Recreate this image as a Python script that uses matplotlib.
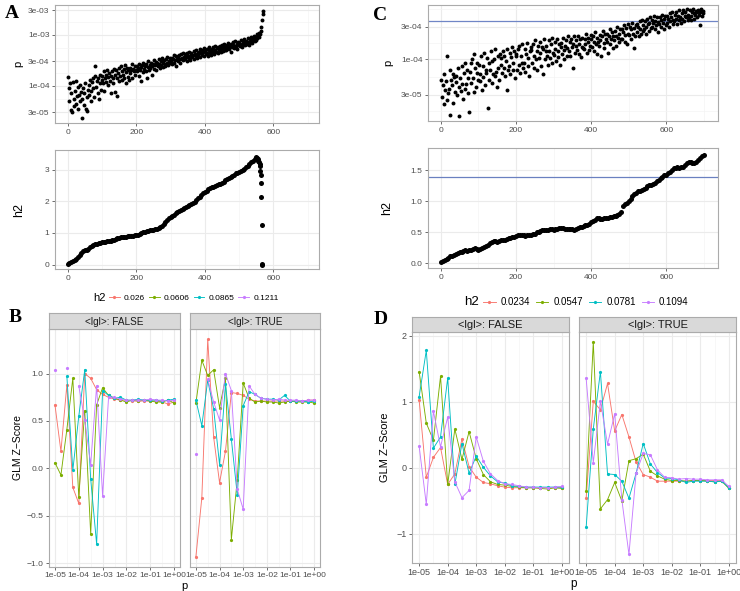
import numpy as np
import matplotlib
matplotlib.use('Agg')
import matplotlib.pyplot as plt
from matplotlib.lines import Line2D
from matplotlib.ticker import FixedLocator, NullFormatter

plt.rcParams['font.family'] = ['Liberation Sans', 'DejaVu Sans']

W, H = 740, 591

# ---- panel A: log10(p) per rank (every 2nd rank), and h2 curve ----
a_log10_p = [
    -3.82, -4.05, -4.30, -3.95, -4.48, -4.15, -4.52, -3.92, -4.25, -4.40,
    -4.10, -3.90, -4.35, -4.20, -4.02, -4.45, -4.18, -3.98, -4.30, -4.12,
    -4.25, -4.64, -4.05, -4.38, -4.15, -3.95, -4.45, -4.22, -4.50, -4.08,
    -3.98, -4.18, -3.88, -4.10, -4.30, -3.92, -4.05, -3.85, -4.22, -3.80,
    -3.62, -4.02, -3.90, -4.15, -3.85, -4.25, -3.95, -3.78, -4.08, -3.88,
    -3.80, -3.95, -3.72, -4.10, -3.85, -3.78, -3.92, -3.70, -3.98, -3.82,
    -3.75, -3.90, -4.15, -3.80, -3.72, -3.95, -3.85, -3.68, -4.12, -3.78,
    -3.70, -3.85, -4.20, -3.75, -3.65, -3.90, -3.80, -3.62, -3.88, -3.72,
    -3.78, -3.68, -3.85, -3.60, -3.95, -3.74, -3.66, -3.82, -3.70, -3.88,
    -3.65, -3.76, -3.70, -3.58, -3.84, -3.68, -3.72, -3.62, -3.78, -3.70,
    -3.62, -3.72, -3.66, -3.80, -3.58, -3.70, -3.64, -3.90, -3.60, -3.74,
    -3.55, -3.68, -3.62, -3.72, -3.58, -3.85, -3.64, -3.52, -3.70, -3.60,
    -3.66, -3.55, -3.62, -3.78, -3.58, -3.50, -3.68, -3.60, -3.54, -3.70,
    -3.56, -3.62, -3.48, -3.58, -3.66, -3.52, -3.60, -3.46, -3.64, -3.55,
    -3.50, -3.58, -3.62, -3.48, -3.55, -3.44, -3.60, -3.52, -3.56, -3.46,
    -3.52, -3.45, -3.58, -3.48, -3.40, -3.55, -3.50, -3.42, -3.62, -3.47,
    -3.44, -3.52, -3.40, -3.48, -3.55, -3.38, -3.46, -3.50, -3.36, -3.44,
    -3.48, -3.38, -3.44, -3.52, -3.35, -3.42, -3.46, -3.33, -3.50, -3.40,
    -3.36, -3.44, -3.40, -3.32, -3.48, -3.38, -3.30, -3.42, -3.46, -3.35,
    -3.40, -3.33, -3.28, -3.44, -3.36, -3.30, -3.40, -3.34, -3.26, -3.42,
    -3.32, -3.38, -3.28, -3.35, -3.42, -3.30, -3.25, -3.36, -3.32, -3.40,
    -3.28, -3.34, -3.24, -3.38, -3.30, -3.22, -3.33, -3.27, -3.36, -3.25,
    -3.30, -3.22, -3.28, -3.34, -3.20, -3.26, -3.31, -3.24, -3.18, -3.29,
    -3.24, -3.30, -3.20, -3.26, -3.16, -3.28, -3.22, -3.33, -3.18, -3.25,
    -3.20, -3.14, -3.26, -3.22, -3.12, -3.24, -3.18, -3.28, -3.15, -3.21,
    -3.16, -3.22, -3.10, -3.19, -3.25, -3.13, -3.18, -3.08, -3.21, -3.15,
    -3.12, -3.18, -3.06, -3.14, -3.20, -3.09, -3.15, -3.04, -3.12, -3.17,
    -3.08, -3.02, -3.12, -3.05, -3.10, -2.99, -3.06, -3.02, -2.97, -3.04,
    -2.98, -2.93, -2.85, -2.72, -2.60, -2.53,
]

# h2 every 5 ranks from 0 to 545
a_h2 = [
    0.03, 0.05, 0.07, 0.10, 0.13, 0.18, 0.24, 0.31, 0.38, 0.42,
    0.45, 0.46, 0.48, 0.55, 0.60, 0.63, 0.64, 0.66, 0.67, 0.69,
    0.70, 0.71, 0.72, 0.73, 0.74, 0.75, 0.77, 0.79, 0.81, 0.83,
    0.85, 0.86, 0.87, 0.88, 0.88, 0.89, 0.89, 0.90, 0.91, 0.92,
    0.93, 0.95, 0.97, 1.00, 1.02, 1.04, 1.06, 1.07, 1.08, 1.09,
    1.10, 1.12, 1.13, 1.15, 1.18, 1.22, 1.28, 1.35, 1.42, 1.46,
    1.50, 1.54, 1.58, 1.62, 1.66, 1.69, 1.72, 1.75, 1.78, 1.81,
    1.84, 1.87, 1.90, 1.94, 1.98, 2.04, 2.10, 2.15, 2.20, 2.25,
    2.30, 2.34, 2.38, 2.41, 2.44, 2.46, 2.48, 2.50, 2.53, 2.55,
    2.58, 2.62, 2.66, 2.70, 2.74, 2.77, 2.80, 2.84, 2.88, 2.90,
    2.92, 2.95, 2.98, 3.03, 3.08, 3.13, 3.18, 3.23, 3.28, 3.33,
]
a_tail_rank = [548, 550, 552, 554, 556, 558, 560, 561, 562, 563, 564, 565, 566, 567, 568]
a_tail_h2 = [3.38, 3.40, 3.36, 3.32, 3.28, 3.24, 3.18, 3.10, 2.97, 2.83, 2.59, 2.12, 1.24, 0.02, 0.00]

# ---- panel C ----
c_log10_p = [
    -4.30, -4.55, -4.38, -4.65, -4.22, -4.45, -4.32, -4.60, -3.95, -4.50,
    -4.44, -4.16, -4.82, -4.31, -4.38, -4.21, -4.64, -4.26, -4.48, -4.33,
    -4.24, -4.52, -4.12, -4.40, -4.83, -4.28, -4.47, -4.10, -4.36, -4.58,
    -4.20, -4.44, -4.06, -4.36, -4.15, -4.50, -4.27, -4.77, -4.18, -4.05,
    -4.35, -4.00, -4.28, -4.48, -3.92, -4.12, -4.40, -4.20, -4.05, -4.30,
    -4.08, -4.32, -4.22, -3.95, -4.45, -4.10, -4.26, -3.90, -4.38, -4.15,
    -4.20, -3.98, -4.72, -4.05, -4.30, -4.15, -3.88, -4.35, -4.02, -4.22,
    -4.00, -4.25, -3.85, -4.18, -4.40, -3.95, -4.12, -4.30, -3.92, -4.08,
    -3.98, -4.20, -3.88, -4.12, -3.95, -4.25, -4.02, -4.45, -3.85, -4.15,
    -4.10, -3.90, -4.22, -3.96, -3.82, -4.15, -4.05, -3.88, -4.28, -3.95,
    -3.92, -4.15, -3.85, -4.08, -3.80, -4.20, -3.95, -4.05, -3.78, -4.12,
    -4.05, -3.85, -4.18, -3.92, -3.76, -4.10, -3.98, -4.25, -3.88, -3.82,
    -3.86, -4.05, -3.78, -4.12, -3.95, -3.72, -4.00, -3.88, -4.15, -3.80,
    -3.98, -3.75, -3.90, -4.10, -3.82, -4.22, -3.85, -3.70, -4.00, -3.88,
    -3.80, -3.95, -4.08, -3.72, -3.88, -3.98, -3.78, -4.05, -3.68, -3.90,
    -3.94, -3.75, -3.85, -4.02, -3.70, -3.88, -3.96, -3.78, -4.08, -3.82,
    -3.76, -3.92, -3.68, -3.86, -4.00, -3.80, -3.72, -3.95, -3.84, -3.66,
    -3.88, -3.74, -3.95, -3.70, -3.82, -4.12, -3.78, -3.66, -3.90, -3.80,
    -3.72, -3.86, -3.65, -3.92, -3.78, -3.70, -3.96, -3.82, -3.68, -3.84,
    -3.85, -3.70, -3.78, -3.62, -3.90, -3.75, -3.68, -3.86, -3.80, -3.64,
    -3.70, -3.82, -3.66, -3.88, -3.75, -3.60, -3.78, -3.92, -3.68, -3.74,
    -3.80, -3.64, -3.72, -3.95, -3.66, -3.58, -3.76, -3.84, -3.62, -3.70,
    -3.62, -3.74, -3.90, -3.66, -3.56, -3.78, -3.70, -3.60, -3.84, -3.66,
    -3.72, -3.58, -3.66, -3.80, -3.52, -3.68, -3.62, -3.75, -3.55, -3.70,
    -3.56, -3.70, -3.60, -3.50, -3.74, -3.64, -3.54, -3.78, -3.62, -3.48,
    -3.64, -3.52, -3.70, -3.56, -3.46, -3.62, -3.84, -3.54, -3.66, -3.50,
    -3.48, -3.60, -3.52, -3.66, -3.44, -3.56, -3.62, -3.42, -3.58, -3.50,
    -3.56, -3.44, -3.52, -3.62, -3.40, -3.48, -3.58, -3.46, -3.38, -3.54,
    -3.42, -3.52, -3.46, -3.36, -3.56, -3.44, -3.50, -3.38, -3.60, -3.45,
    -3.48, -3.38, -3.52, -3.42, -3.34, -3.46, -3.56, -3.40, -3.36, -3.50,
    -3.36, -3.46, -3.40, -3.52, -3.32, -3.44, -3.38, -3.30, -3.48, -3.42,
    -3.44, -3.34, -3.40, -3.30, -3.48, -3.36, -3.42, -3.28, -3.38, -3.46,
    -3.32, -3.40, -3.28, -3.44, -3.36, -3.30, -3.38, -3.26, -3.42, -3.34,
    -3.38, -3.28, -3.36, -3.42, -3.30, -3.26, -3.40, -3.32, -3.35, -3.29,
    -3.30, -3.38, -3.27, -3.34, -3.50, -3.31, -3.26, -3.36, -3.29, -3.32,
]
c_p_cut = 3.65e-4

# h2 every 5 ranks from 0 to 700
c_h2 = [
    0.02, 0.04, 0.06, 0.07, 0.09, 0.11, 0.12, 0.14, 0.15, 0.17,
    0.18, 0.19, 0.20, 0.21, 0.20, 0.21, 0.21, 0.23, 0.24, 0.23,
    0.22, 0.23, 0.25, 0.27, 0.28, 0.30, 0.32, 0.34, 0.36, 0.36,
    0.35, 0.36, 0.37, 0.37, 0.38, 0.39, 0.40, 0.41, 0.42, 0.43,
    0.44, 0.45, 0.45, 0.46, 0.45, 0.44, 0.46, 0.46, 0.46, 0.47,
    0.48, 0.50, 0.51, 0.52, 0.54, 0.54, 0.53, 0.54, 0.55, 0.55,
    0.54, 0.55, 0.56, 0.57, 0.57, 0.57, 0.56, 0.56, 0.56, 0.55,
    0.55, 0.54, 0.56, 0.57, 0.58, 0.59, 0.60, 0.61, 0.62, 0.64,
    0.66, 0.68, 0.70, 0.73, 0.73, 0.72, 0.72, 0.73, 0.73, 0.73,
    0.74, 0.75, 0.76, 0.77, 0.78, 0.79, 0.82, 0.92, 0.96, 0.97,
    1.00, 1.04, 1.08, 1.12, 1.14, 1.16, 1.17, 1.18, 1.20, 1.22,
    1.24, 1.26, 1.27, 1.28, 1.30, 1.32, 1.35, 1.37, 1.40, 1.42,
    1.43, 1.45, 1.48, 1.51, 1.53, 1.54, 1.55, 1.54, 1.55, 1.56,
    1.58, 1.61, 1.63, 1.64, 1.62, 1.62, 1.64, 1.67, 1.70, 1.73,
    1.75,
]
c_h2_cut = 1.387

# ---- panels B and D: GLM Z-score per p threshold ----
p_thr = [1e-05, 1.78e-05, 3.16e-05, 5.62e-05, 1e-04, 1.78e-04, 3.16e-04, 5.62e-04,
         1e-03, 1.78e-03, 3.16e-03, 5.62e-03, 1e-02, 1.78e-02, 3.16e-02, 5.62e-02,
         1e-01, 1.78e-01, 3.16e-01, 5.62e-01, 1.0]
nan = np.nan

b_h2 = ['0.026', '0.0606', '0.0865', '0.1211']
b_false = [
    [0.67, 0.18, 0.88, -0.20, -0.37, 1.00, 0.95, 0.83, 0.78, 0.75, 0.73, 0.72, 0.72, 0.71, 0.71, 0.71, 0.71, 0.71, 0.70, 0.68, 0.70],
    [0.06, -0.07, 0.41, 0.95, -0.30, 0.61, -0.69, 0.67, 0.85, 0.77, 0.74, 0.72, 0.70, 0.72, 0.71, 0.72, 0.71, 0.70, 0.70, 0.72, 0.69],
    [nan, nan, 0.97, -0.02, 0.55, 1.04, -0.11, -0.80, 0.82, 0.77, 0.74, 0.75, 0.72, 0.72, 0.73, 0.72, 0.72, 0.72, 0.71, 0.72, 0.73],
    [1.04, nan, 1.06, nan, 0.87, 0.51, 0.04, 0.87, -0.29, 0.75, 0.75, 0.73, 0.72, 0.72, 0.72, 0.72, 0.73, 0.72, 0.72, 0.71, 0.72],
]
b_true = [
    [-0.93, -0.31, 1.36, 0.33, -0.15, 0.18, 0.80, 0.79, 0.77, 0.73, 0.71, 0.71, 0.71, 0.71, 0.71, 0.71, 0.71, 0.71, 0.71, 0.72, 0.72],
    [0.69, 1.14, 0.98, 1.04, 0.64, 0.95, -0.75, -0.12, 0.90, 0.74, 0.70, 0.71, 0.70, 0.70, 0.69, 0.70, 0.71, 0.70, 0.70, 0.70, 0.69],
    [0.72, 0.45, 0.93, 0.63, 0.04, 0.89, 0.31, -0.28, 0.66, 0.81, 0.78, 0.74, 0.73, 0.73, 0.72, 0.77, 0.71, 0.71, 0.71, 0.70, 0.71],
    [0.15, nan, 0.94, 0.70, 0.51, 1.00, 0.82, -0.22, -0.43, 0.87, 0.78, 0.74, 0.73, 0.72, 0.73, 0.72, 0.72, 0.72, 0.71, 0.72, 0.72],
]

d_h2 = ['0.0234', '0.0547', '0.0781', '0.1094']
d_false = [
    [1.03, -0.14, 0.16, 0.31, -0.25, -0.09, 0.44, 0.02, -0.14, -0.22, -0.24, -0.27, -0.29, -0.30, -0.30, -0.30, -0.30, -0.30, -0.30, -0.30, -0.30],
    [1.46, 0.68, 0.42, 1.39, -0.25, 0.59, 0.13, 0.55, 0.14, -0.10, -0.21, -0.25, -0.26, -0.28, -0.29, -0.30, -0.30, -0.31, -0.32, -0.30, -0.31],
    [1.08, 1.78, 0.30, 0.47, 1.36, -0.25, 0.37, -0.08, 0.18, 0.01, -0.12, -0.21, -0.23, -0.27, -0.28, -0.29, -0.29, -0.29, -0.29, -0.29, -0.29],
    [0.33, -0.55, 0.86, 0.32, 0.77, -0.21, -0.45, -0.34, 0.47, 0.10, -0.09, -0.19, -0.24, -0.25, -0.27, -0.29, -0.29, -0.30, -0.30, -0.29, -0.28],
]
d_true = [
    [-0.46, 1.01, 0.88, 1.28, 0.56, 0.81, 0.47, 0.09, -0.10, -0.14, -0.20, -0.20, -0.20, -0.20, -0.20, -0.19, -0.19, -0.19, -0.19, -0.19, -0.30],
    [-0.35, 1.91, -0.62, -0.48, -0.22, -0.50, 0.11, 0.14, 0.21, -0.05, -0.12, -0.17, -0.19, -0.19, -0.20, -0.19, -0.19, -0.20, -0.21, -0.20, -0.31],
    [-0.90, 0.59, 1.46, -0.09, -0.10, -0.20, -0.46, -0.08, 0.37, 0.06, -0.07, -0.15, -0.16, -0.18, -0.22, -0.20, -0.20, -0.20, -0.21, -0.20, -0.30],
    [1.36, 0.08, 1.01, 0.36, 0.82, -0.48, -1.31, -0.08, 0.22, 0.20, -0.03, -0.14, -0.15, -0.17, -0.16, -0.17, -0.17, -0.18, -0.18, -0.18, -0.28],
]

colors = ['#F8766D', '#7CAE00', '#00BFC4', '#C77CFF']
p_ticks = [1e-05, 1e-04, 1e-03, 1e-02, 1e-01, 1e+00]
p_ticklabels = ['1e-05', '1e-04', '1e-03', '1e-02', '1e-01', '1e+00']

fig = plt.figure(figsize=(7.4, 5.91), dpi=100)


def px_axes(x0, y0, x1, y1):
    # box given in pixels from the top-left corner
    return fig.add_axes([x0 / W, 1 - y1 / H, (x1 - x0) / W, (y1 - y0) / H])


def style(ax, fs):
    for s in ax.spines.values():
        s.set_color('#ABABAB')
        s.set_linewidth(0.8)
    ax.tick_params(which='major', length=2.5, width=0.6, color='#555555',
                   labelsize=fs, labelcolor='#4D4D4D', pad=1.5)
    ax.tick_params(which='minor', length=0)
    ax.grid(which='major', color='#EBEBEB', lw=0.8)
    ax.grid(which='minor', color='#F4F4F4', lw=0.5)
    ax.set_axisbelow(True)


def strip(x0, y0, x1, y1, label, fs):
    sa = px_axes(x0, y0, x1, y1)
    sa.set_facecolor('#D9D9D9')
    sa.set_xticks([])
    sa.set_yticks([])
    for s in sa.spines.values():
        s.set_color('#ABABAB')
        s.set_linewidth(0.8)
    sa.text(0.5, 0.45, label, ha='center', va='center', fontsize=fs,
            color='#1A1A1A', transform=sa.transAxes)


def scatter_p(box, ranks, logp, ylim, yt, ytl, yminor, xlim, labx):
    ax = px_axes(*box)
    ax.scatter(ranks, 10 ** np.array(logp), s=8, c='black', lw=0, zorder=3)
    ax.set_yscale('log')
    ax.set_ylim(10 ** ylim[0], 10 ** ylim[1])
    ax.set_xlim(*xlim)
    ax.set_xticks([0, 200, 400, 600])
    ax.set_xticklabels(['0', '200', '400', '600'])
    ax.xaxis.set_minor_locator(FixedLocator([100, 300, 500, 700]))
    ax.yaxis.set_major_locator(FixedLocator(yt))
    ax.set_yticklabels(ytl)
    ax.yaxis.set_minor_locator(FixedLocator([10 ** v for v in yminor]))
    ax.yaxis.set_minor_formatter(NullFormatter())
    style(ax, 6)
    ax.set_ylabel('p', fontsize=8)
    ax.yaxis.set_label_coords(labx, 0.5)
    return ax


def line_h2(box, ranks, h2, ylim, yt, ytl, xlim, labx):
    ax = px_axes(*box)
    ax.scatter(ranks, h2, s=13, c='black', lw=0, zorder=3)
    ax.set_ylim(*ylim)
    ax.set_xlim(*xlim)
    ax.set_xticks([0, 200, 400, 600])
    ax.set_xticklabels(['0', '200', '400', '600'])
    ax.xaxis.set_minor_locator(FixedLocator([100, 300, 500, 700]))
    ax.set_yticks(yt)
    ax.set_yticklabels(ytl)
    style(ax, 6)
    ax.set_ylabel('h2', fontsize=9)
    ax.yaxis.set_label_coords(labx, 0.5)
    return ax


# ---- A ----
a_ranks = np.arange(1, 2 * len(a_log10_p), 2)
scatter_p((55, 5, 319, 123), a_ranks, a_log10_p, (-4.73, -2.418),
          [3e-05, 1e-04, 3e-04, 1e-03, 3e-03], ['3e-05', '1e-04', '3e-04', '1e-03', '3e-03'],
          [-4.26, -3.76, -3.26, -2.76], (-37, 733), -0.12)
a_h2_ranks = np.concatenate([np.arange(0, 5 * len(a_h2), 5), a_tail_rank])
line_h2((55, 150, 319, 269), a_h2_ranks, a_h2 + a_tail_h2, (-0.14, 3.62),
        [0, 1, 2, 3], ['0', '1', '2', '3'], (-37, 733), -0.115)

# ---- C ----
c_ranks = np.arange(1, 2 * len(c_log10_p), 2)
ax = scatter_p((428, 5, 718, 121), c_ranks, c_log10_p, (-4.907, -3.20),
               [3e-05, 1e-04, 3e-04], ['3e-05', '1e-04', '3e-04'],
               [-4.76, -4.26, -3.76, -3.26], (-34.5, 738), -0.118)
ax.axhline(c_p_cut, color='#7086C6', lw=0.9, zorder=2)
ax = line_h2((428, 148, 718, 268), np.arange(0, 5 * len(c_h2), 5), c_h2, (-0.076, 1.86),
             [0, 0.5, 1.0, 1.5], ['0.0', '0.5', '1.0', '1.5'], (-34.5, 738), -0.121)
ax.axhline(c_h2_cut, color='#6A80C0', lw=0.9, zorder=2)


# ---- B and D facets ----
def facet(box, series, ylim, yt, ytl, show_y, fs):
    ax = px_axes(*box)
    for vals, col in zip(series, colors):
        ax.plot(p_thr, vals, '-o', color=col, lw=0.65, ms=2.3, mew=0, zorder=3)
    ax.set_xscale('log')
    ax.set_xlim(10 ** -5.25, 10 ** 0.25)
    ax.set_ylim(*ylim)
    ax.xaxis.set_major_locator(FixedLocator(p_ticks))
    ax.set_xticklabels(p_ticklabels)
    ax.xaxis.set_minor_locator(FixedLocator([10 ** v for v in [-4.5, -3.5, -2.5, -1.5, -0.5]]))
    ax.xaxis.set_minor_formatter(NullFormatter())
    ax.set_yticks(yt)
    ax.set_yticklabels(ytl)
    style(ax, fs)
    ax.tick_params(axis='x', pad=1)
    if not show_y:
        ax.tick_params(axis='y', left=False, labelleft=False)
    return ax


b_ylim = (-1.04, 1.47)
b_yt = [-1.0, -0.5, 0.0, 0.5, 1.0]
b_ytl = ['\u22121.0', '\u22120.5', '0.0', '0.5', '1.0']
ax = facet((49, 329, 180, 567), b_false, b_ylim, b_yt, b_ytl, True, 6.1)
ax.set_ylabel('GLM Z\u2212Score', fontsize=7.5)
ax.yaxis.set_label_coords(-0.198, 0.5)
facet((190, 329, 320, 567), b_true, b_ylim, b_yt, b_ytl, False, 6.1)
strip(49, 313, 180, 329, '<lgl>: FALSE', 7.2)
strip(190, 313, 320, 329, '<lgl>: TRUE', 7.2)
fig.text(184 / W, 1 - 586 / H, 'p', fontsize=8, ha='center', va='center')

d_ylim = (-1.44, 2.06)
d_yt = [-1, 0, 1, 2]
d_ytl = ['\u22121', '0', '1', '2']
ax = facet((412, 332, 569, 563), d_false, d_ylim, d_yt, d_ytl, True, 6.5)
ax.set_ylabel('GLM Z\u2212Score', fontsize=8)
ax.yaxis.set_label_coords(-0.14, 0.5)
facet((579, 332, 736, 563), d_true, d_ylim, d_yt, d_ytl, False, 6.5)
strip(412, 317, 569, 332, '<lgl>: FALSE', 8)
strip(579, 317, 736, 332, '<lgl>: TRUE', 8)
fig.text(574 / W, 1 - 584 / H, 'p', fontsize=8.5, ha='center', va='center')


# ---- legends ----
def legend(labels, title_x, x0, y, fs, tfs, colsp):
    handles = [Line2D([], [], color=c, marker='o', lw=0.65, ms=2.3, mew=0) for c in colors]
    fig.text(title_x / W, 1 - y / H, 'h2', fontsize=tfs, ha='center', va='center')
    fig.legend(handles, labels, loc='center left', bbox_to_anchor=(x0 / W, 1 - y / H),
               ncol=4, frameon=False, fontsize=fs, handlelength=1.3, handletextpad=0.5,
               columnspacing=colsp, borderaxespad=0, borderpad=0)


legend(b_h2, 99, 109, 298, 6, 8, 0.45)
legend(d_h2, 471, 483, 302, 7, 9.5, 0.6)

# ---- panel letters ----
for lab, x, y in [('A', 12, 13), ('C', 380, 15), ('B', 15, 318), ('D', 381, 320)]:
    fig.text(x / W, 1 - y / H, lab, fontsize=14, fontweight='bold',
             family=['Liberation Serif', 'DejaVu Serif'], ha='center', va='center')

fig.savefig('out.png', dpi=100)
